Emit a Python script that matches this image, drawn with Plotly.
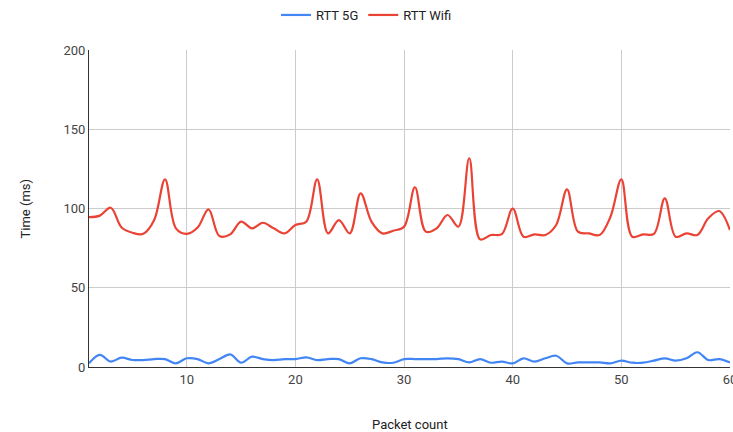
import plotly.graph_objects as go

packets = list(range(1, 61))
rtt_5g = [2.3, 7.6, 3.4, 5.9, 4.4, 4.4, 5.0, 5.0, 2.3, 5.5,
          5.0, 2.3, 5.0, 8.0, 2.7, 6.5, 5.0, 4.4, 5.0, 5.0,
          6.1, 4.4, 5.0, 5.0, 2.3, 5.5, 5.0, 2.9, 2.7, 5.0,
          5.0, 5.0, 5.0, 5.5, 5.0, 2.9, 5.0, 2.7, 3.4, 2.3,
          5.5, 3.4, 5.5, 7.1, 2.3, 2.9, 2.9, 2.9, 2.3, 4.0,
          2.7, 2.7, 4.0, 5.5, 4.0, 5.5, 9.3, 4.4, 5.0, 2.9]
rtt_wifi = [94.5, 95.5, 100.5, 88, 84.7, 84, 92.7, 118.4, 87.5, 84,
            88, 99.5, 82.6, 83.7, 91.7, 87.5, 91, 87.5, 84.3, 89.6,
            91.7, 118.4, 84.3, 92.7, 84.3, 109.6, 91.7, 84.3, 86, 88.5,
            113.4, 85.4, 87.5, 95.9, 88.5, 131.7, 80.5, 83.3, 83.8, 100,
            82.2, 83.7, 83.3, 89.6, 112.1, 85.4, 84.3, 83.3, 94.8, 118.4,
            82.2, 83.7, 84, 106.4, 82.2, 84.3, 83.3, 93.8, 98.4, 86.4]
x_ticks = [10, 20, 30, 40, 50, 60]
y_ticks = [0, 50, 100, 150, 200]

fig = go.Figure()
fig.add_trace(go.Scatter(x=packets, y=rtt_5g, name="RTT 5G", mode="lines",
                         line=dict(color="#4285F4", width=2.2, shape="spline", smoothing=1.0)))
fig.add_trace(go.Scatter(x=packets, y=rtt_wifi, name="RTT Wifi", mode="lines",
                         line=dict(color="#EA4335", width=2.2, shape="spline", smoothing=1.0)))

fig.update_layout(
    width=733, height=432,
    margin=dict(l=89, r=3, t=50, b=65, autoexpand=False),
    paper_bgcolor="white", plot_bgcolor="white",
    font=dict(family="Roboto, Arial, sans-serif", size=13, color="#222222"),
    legend=dict(orientation="h", xref="container", x=0.5, xanchor="center", yref="container",
                y=1 - 15 / 432, yanchor="middle", font=dict(size=13, color="#222222")),
    showlegend=True,
)
fig.update_xaxes(range=[1, 60], tickvals=x_ticks, showgrid=True, gridcolor="#cccccc",
                 showline=True, linecolor="#333333", linewidth=1, zeroline=False,
                 ticks="", automargin=False, ticklabeloverflow="allow",
                 tickfont=dict(size=13, color="#444444"))
fig.update_yaxes(range=[0, 200], tickvals=y_ticks, showgrid=True, gridcolor="#cccccc",
                 showline=True, linecolor="#333333", linewidth=1, zeroline=False,
                 ticks="", automargin=False, ticklabeloverflow="allow",
                 tickfont=dict(size=13, color="#444444"))
fig.add_annotation(text="Packet count", xref="paper", yref="paper", x=0.5, y=-57 / 317,
                   yanchor="middle", showarrow=False, font=dict(size=13, color="#222222"))
fig.add_annotation(text="Time (ms)", xref="paper", yref="paper", x=-64 / 641, y=0.5,
                   xanchor="center", textangle=-90, showarrow=False,
                   font=dict(size=13, color="#222222"))

fig.write_html("out.html", config={"displayModeBar": False},
               post_script="document.body.style.margin='0';document.body.style.overflow='hidden';")
